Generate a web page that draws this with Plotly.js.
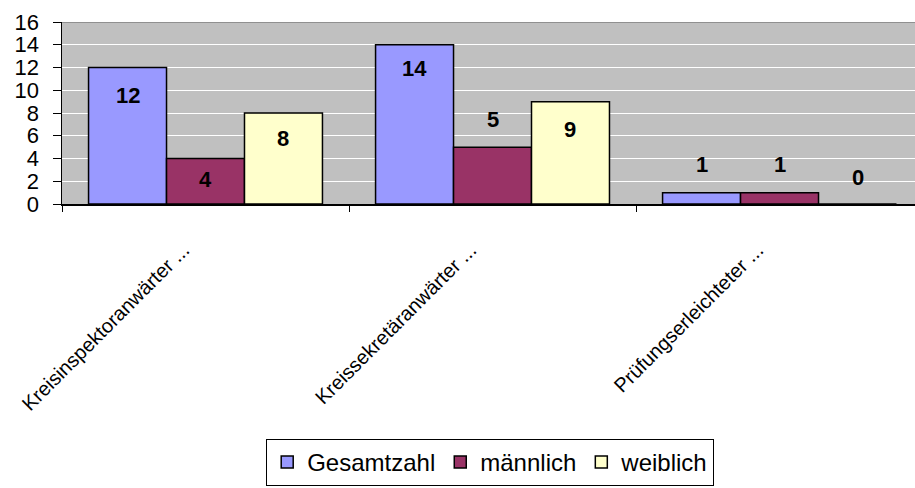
<!DOCTYPE html>
<html>
<head>
<meta charset="utf-8">
<script src="https://cdn.plot.ly/plotly-3.0.1.min.js"></script>
<style>html,body{margin:0;padding:0;background:#fff;}#chart{width:915px;height:488px;}</style>
</head>
<body>
<div id="chart"></div>
<script>
// ---- data ----
var categories = ['Kreisinspektoranwärter ...', 'Kreissekretäranwärter ...', 'Prüfungserleichteter ...'];
var seriesNames = ['Gesamtzahl', 'männlich', 'weiblich'];
var gesamtzahl = [12, 14, 1];
var maennlich = [4, 5, 1];
var weiblich = [8, 9, 0];
var yTickValues = [0, 2, 4, 6, 8, 10, 12, 14, 16];

// ---- style ----
var colors = ['#9999FF', '#993366', '#FFFFCC'];
var FONT = 'Liberation Sans, Arial, sans-serif';
var bargap = 0.185;
// vertical pixel shift of each data label relative to its bar top (series x category)
var labelShift = [[-28, -24, 28], [-21, 28, 28], [-25, -28, 27]];

var allSeries = [gesamtzahl, maennlich, weiblich];
var traces = allSeries.map(function (vals, k) {
  return {
    type: 'bar',
    name: seriesNames[k],
    x: categories,
    y: vals,
    marker: {color: colors[k], line: {color: '#000000', width: 1.5}},
    hoverinfo: 'none'
  };
});

var barW = (1 - bargap) / 3;
var annotations = [];
allSeries.forEach(function (vals, k) {
  vals.forEach(function (v, i) {
    annotations.push({
      x: i + (k - 1) * barW,
      y: v,
      xref: 'x', yref: 'y',
      text: String(v),
      showarrow: false,
      xanchor: 'center', yanchor: 'middle',
      yshift: labelShift[k][i],
      font: {family: FONT, size: 22, color: '#000000', weight: 'bold'}
    });
  });
});

var layout = {
  width: 915, height: 488,
  margin: {l: 62, r: 0, t: 22, b: 284, pad: 0},
  paper_bgcolor: '#FFFFFF',
  plot_bgcolor: '#C0C0C0',
  barmode: 'group',
  bargap: bargap,
  bargroupgap: 0,
  font: {family: FONT, color: '#000000'},
  showlegend: true,
  xaxis: {
    type: 'category',
    range: [-0.5, 2.472],
    showline: true, linecolor: '#000000', linewidth: 1.5,
    ticks: 'outside', tickson: 'boundaries', ticklen: 6, tickcolor: '#000000', tickwidth: 1,
    showgrid: false,
    tickangle: -45,
    ticklabelshift: -22,
    ticklabelstandoff: 25,
    tickfont: {family: FONT, size: 20, color: '#000000'},
    fixedrange: true
  },
  yaxis: {
    range: [0, 16],
    tickvals: yTickValues,
    ticktext: yTickValues.map(String),
    showline: true, linecolor: '#000000', linewidth: 1.5,
    ticks: 'outside', ticklen: 8, tickcolor: '#000000', tickwidth: 1,
    showgrid: true, gridcolor: '#FFFFFF', gridwidth: 1,
    zeroline: false,
    ticklabelstandoff: 9,
    tickfont: {family: FONT, size: 22, color: '#000000'},
    fixedrange: true
  },
  legend: {
    orientation: 'h',
    x: 0.502, xanchor: 'center',
    y: -1.549, yanchor: 'bottom',
    bordercolor: '#000000', borderwidth: 1,
    bgcolor: '#FFFFFF',
    font: {family: FONT, size: 24, color: '#000000'},
    itemwidth: 30,
    tracegroupgap: 0,
    traceorder: 'normal'
  },
  shapes: [{
    type: 'line', xref: 'paper', yref: 'y', x0: 0, x1: 1, y0: 16, y1: 16,
    line: {color: '#808080', width: 1.5}
  }],
  annotations: annotations
};

Plotly.newPlot('chart', traces, layout, {displayModeBar: false, staticPlot: true});
</script>
</body>
</html>
